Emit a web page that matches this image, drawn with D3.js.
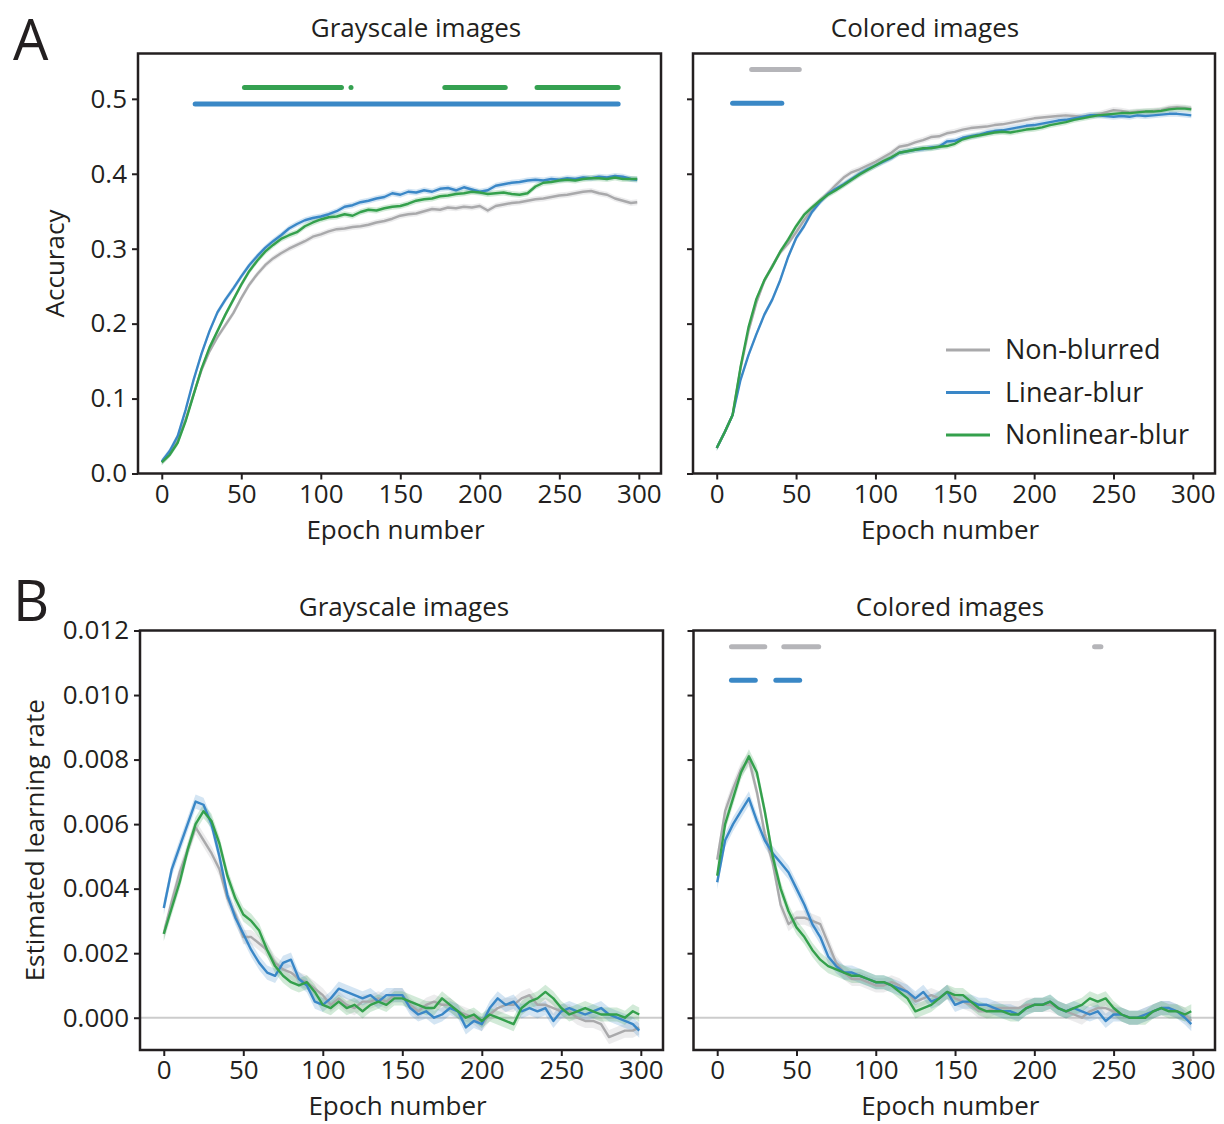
<!DOCTYPE html>
<html>
<head>
<meta charset="utf-8">
<script src="https://cdn.jsdelivr.net/npm/d3@7"></script>
<style>
  body { margin: 0; background: #fff; }
  svg { display: block; }
  text { font-family: "Open Sans", "Noto Sans", sans-serif; fill: #231f20; }
</style>
</head>
<body>
<div id="chart"></div>
<script>
const EPOCHS = [0,5,10,15,20,25,30,35,40,45,50,55,60,65,70,75,80,85,90,95,
  100,105,110,115,120,125,130,135,140,145,150,155,160,165,170,175,180,185,190,195,
  200,205,210,215,220,225,230,235,240,245,250,255,260,265,270,275,280,285,290,295,299];

// A, grayscale images: accuracy
const accGrayNon = [0.015,0.027,0.044,0.072,0.106,0.138,0.163,0.182,0.198,0.214,
  0.234,0.252,0.266,0.278,0.287,0.294,0.300,0.305,0.310,0.316,
  0.319,0.323,0.326,0.327,0.329,0.330,0.332,0.335,0.337,0.340,
  0.344,0.346,0.347,0.350,0.353,0.352,0.355,0.354,0.356,0.355,
  0.357,0.351,0.357,0.359,0.361,0.362,0.364,0.366,0.367,0.369,
  0.371,0.372,0.374,0.376,0.377,0.374,0.372,0.367,0.364,0.361,0.362];
const accGrayLin = [0.016,0.030,0.050,0.085,0.125,0.160,0.190,0.215,0.232,0.247,
  0.263,0.278,0.290,0.301,0.310,0.318,0.327,0.333,0.338,0.341,
  0.343,0.346,0.350,0.356,0.358,0.362,0.364,0.367,0.369,0.374,
  0.372,0.376,0.375,0.378,0.376,0.380,0.381,0.378,0.382,0.379,
  0.376,0.378,0.384,0.386,0.388,0.389,0.391,0.392,0.391,0.393,
  0.392,0.394,0.393,0.395,0.394,0.396,0.395,0.397,0.396,0.393,0.392];
const accGrayNonlin = [0.015,0.025,0.041,0.070,0.105,0.140,0.168,0.190,0.212,0.232,
  0.252,0.270,0.284,0.296,0.305,0.313,0.318,0.322,0.330,0.335,
  0.339,0.342,0.343,0.346,0.344,0.349,0.352,0.351,0.354,0.356,
  0.357,0.360,0.364,0.366,0.367,0.370,0.371,0.373,0.374,0.376,
  0.375,0.373,0.374,0.375,0.373,0.372,0.374,0.383,0.388,0.389,
  0.391,0.392,0.391,0.393,0.394,0.394,0.393,0.395,0.393,0.393,0.393];

// A, colored images: accuracy
const accColNon = [0.034,0.055,0.078,0.140,0.190,0.228,0.257,0.277,0.295,0.307,
  0.322,0.338,0.352,0.364,0.374,0.385,0.395,0.402,0.406,0.411,
  0.416,0.422,0.428,0.436,0.438,0.442,0.445,0.449,0.450,0.454,
  0.456,0.459,0.461,0.462,0.463,0.465,0.466,0.468,0.470,0.472,
  0.474,0.475,0.476,0.477,0.478,0.477,0.476,0.478,0.479,0.482,
  0.485,0.484,0.482,0.483,0.483,0.484,0.485,0.488,0.489,0.488,0.487];
const accColLin = [0.034,0.055,0.078,0.125,0.158,0.186,0.212,0.232,0.258,0.289,
  0.314,0.330,0.349,0.362,0.373,0.380,0.386,0.393,0.400,0.406,
  0.411,0.416,0.421,0.428,0.430,0.432,0.433,0.435,0.436,0.443,
  0.444,0.448,0.450,0.452,0.455,0.457,0.458,0.460,0.462,0.464,
  0.465,0.467,0.469,0.471,0.472,0.474,0.476,0.478,0.478,0.477,
  0.476,0.477,0.476,0.478,0.477,0.478,0.479,0.480,0.480,0.479,0.478];
const accColNonlin = [0.034,0.055,0.078,0.142,0.195,0.233,0.258,0.276,0.296,0.312,
  0.330,0.345,0.355,0.364,0.372,0.378,0.385,0.392,0.399,0.405,
  0.411,0.417,0.422,0.428,0.430,0.432,0.434,0.434,0.436,0.437,
  0.440,0.446,0.449,0.451,0.453,0.455,0.456,0.455,0.457,0.459,
  0.460,0.462,0.465,0.467,0.469,0.472,0.474,0.476,0.478,0.479,
  0.480,0.481,0.481,0.482,0.483,0.483,0.484,0.486,0.487,0.487,0.486];

// B, grayscale images: estimated learning rate
const lrGrayNon = [0.0026,0.0036,0.0045,0.0052,0.0059,0.0055,0.0051,0.0046,0.0037,0.0032,
  0.0025,0.0025,0.0023,0.0021,0.0017,0.0015,0.0014,0.0012,0.0011,0.0009,
  0.0007,0.0004,0.0006,0.0004,0.0003,0.0005,0.0005,0.0006,0.0005,0.0007,
  0.0007,0.0004,0.0002,0.0004,0.0005,0.0004,0.0004,0.0002,0.0001,0.0000,
  -0.0002,0.0001,0.0003,0.0004,0.0004,0.0006,0.0007,0.0004,0.0004,0.0003,
  0.0002,0.0002,0.0000,-0.0001,-0.0001,-0.0002,-0.0006,-0.0005,-0.0004,-0.0004,-0.0003];
const lrGrayLin = [0.0034,0.0046,0.0053,0.0060,0.0067,0.0066,0.0060,0.0050,0.0038,0.0031,
  0.0026,0.0021,0.0017,0.0014,0.0013,0.0017,0.0018,0.0012,0.0010,0.0005,
  0.0004,0.0006,0.0009,0.0008,0.0007,0.0006,0.0007,0.0005,0.0007,0.0007,
  0.0007,0.0003,0.0001,0.0002,0.0000,0.0001,0.0003,0.0002,-0.0003,-0.0001,
  -0.0002,0.0003,0.0006,0.0004,0.0005,0.0002,0.0003,0.0002,0.0003,-0.0001,
  0.0002,0.0003,0.0002,0.0001,0.0002,0.0003,0.0001,0.0000,-0.0001,-0.0002,-0.0004];
const lrGrayNonlin = [0.0026,0.0034,0.0042,0.0052,0.0060,0.0064,0.0061,0.0054,0.0044,0.0037,
  0.0032,0.0030,0.0027,0.0021,0.0016,0.0013,0.0011,0.0010,0.0011,0.0008,
  0.0004,0.0003,0.0005,0.0003,0.0004,0.0002,0.0004,0.0005,0.0004,0.0006,
  0.0006,0.0005,0.0004,0.0003,0.0003,0.0006,0.0004,0.0002,0.0000,0.0001,
  -0.0001,0.0001,0.0000,-0.0001,-0.0002,0.0003,0.0005,0.0006,0.0008,0.0006,
  0.0003,0.0001,0.0002,0.0003,0.0002,0.0001,0.0001,0.0001,0.0000,0.0002,0.0001];

// B, colored images: estimated learning rate
const lrColNon = [0.0049,0.0064,0.0071,0.0077,0.0080,0.0070,0.0057,0.0048,0.0035,0.0029,
  0.0031,0.0031,0.0030,0.0029,0.0023,0.0017,0.0014,0.0012,0.0012,0.0011,
  0.0010,0.0010,0.0011,0.0010,0.0008,0.0005,0.0006,0.0007,0.0006,0.0008,
  0.0006,0.0005,0.0004,0.0002,0.0002,0.0003,0.0003,0.0003,0.0003,0.0004,
  0.0004,0.0004,0.0004,0.0003,0.0002,0.0001,0.0000,0.0002,0.0003,0.0003,
  0.0002,0.0001,0.0000,0.0000,0.0001,0.0002,0.0003,0.0003,0.0002,0.0001,-0.0001];
const lrColLin = [0.0042,0.0055,0.0060,0.0064,0.0068,0.0061,0.0055,0.0051,0.0048,0.0045,
  0.0040,0.0035,0.0029,0.0025,0.0019,0.0016,0.0014,0.0014,0.0013,0.0012,
  0.0011,0.0011,0.0010,0.0009,0.0008,0.0006,0.0008,0.0005,0.0006,0.0008,
  0.0004,0.0005,0.0005,0.0004,0.0004,0.0003,0.0002,0.0002,0.0001,0.0003,
  0.0004,0.0004,0.0005,0.0003,0.0002,0.0003,0.0002,0.0001,0.0002,-0.0001,
  0.0001,0.0001,0.0000,0.0000,0.0001,0.0002,0.0003,0.0003,0.0002,0.0000,-0.0002];
const lrColNonlin = [0.0044,0.0060,0.0068,0.0076,0.0081,0.0076,0.0064,0.0050,0.0040,0.0033,
  0.0028,0.0025,0.0021,0.0018,0.0016,0.0015,0.0014,0.0013,0.0013,0.0012,
  0.0011,0.0011,0.0010,0.0008,0.0006,0.0002,0.0003,0.0004,0.0006,0.0008,
  0.0007,0.0007,0.0005,0.0003,0.0002,0.0002,0.0002,0.0001,0.0001,0.0003,
  0.0004,0.0004,0.0005,0.0003,0.0002,0.0003,0.0004,0.0006,0.0005,0.0006,
  0.0003,0.0001,0.0000,0.0000,0.0000,0.0002,0.0003,0.0002,0.0002,0.0001,0.0002];

// shaded error half-widths
const semAcc = 0.004;
const semLr = 0.00022;

// significance bars: [start epoch, end epoch]
const sigAccGrayLin = [[21, 287]];
const sigAccGrayNonlin = [[52, 113], [119, 119], [178, 216], [236, 287]];
const sigAccColNon = [[22, 52]];
const sigAccColLin = [[10, 41]];
const sigLrColNon = [[9, 30], [42, 64], [238, 242]];
const sigLrColLin = [[9, 24], [37, 52]];

const legendLabels = ["Non-blurred", "Linear-blur", "Nonlinear-blur"];
const xTicks = [0, 50, 100, 150, 200, 250, 300];
const accTicks = [0.0, 0.1, 0.2, 0.3, 0.4, 0.5];
const lrTicks = [0.000, 0.002, 0.004, 0.006, 0.008, 0.010, 0.012];

const colors = { non: "#a9a9ab", lin: "#3a87c7", nonlin: "#34a04c" };
const barColors = { non: "#b5b5b9", lin: "#3a88c6", nonlin: "#35a151" };
const ink = "#231f20";

const svg = d3.select("#chart").append("svg")
  .attr("width", 1224).attr("height", 1124);

function drawPanel(p) {
  const x = d3.scaleLinear().domain([-14.95, 313.95]).range([p.left, p.right]);
  const y = d3.scaleLinear().domain(p.yDomain).range([p.bottom, p.top]);
  const g = svg.append("g");
  const clipId = "clip-" + p.id;
  g.append("clipPath").attr("id", clipId).append("rect")
    .attr("x", p.left).attr("y", p.top)
    .attr("width", p.right - p.left).attr("height", p.bottom - p.top);
  const plot = g.append("g").attr("clip-path", "url(#" + clipId + ")");

  if (p.zeroLine) {
    plot.append("line")
      .attr("x1", p.left).attr("x2", p.right)
      .attr("y1", y(0)).attr("y2", y(0))
      .attr("stroke", "#cccccc").attr("stroke-width", 2);
  }

  const keys = ["non", "lin", "nonlin"];
  keys.forEach(k => {
    const vals = p.series[k];
    const pts = EPOCHS.map((e, i) => [e, vals[i]]);
    plot.append("path").datum(pts)
      .attr("d", d3.area().x(d => x(d[0])).y0(d => y(d[1] - p.sem)).y1(d => y(d[1] + p.sem)))
      .attr("fill", colors[k]).attr("opacity", 0.22);
  });
  keys.forEach(k => {
    const vals = p.series[k];
    const pts = EPOCHS.map((e, i) => [e, vals[i]]);
    plot.append("path").datum(pts)
      .attr("d", d3.line().x(d => x(d[0])).y(d => y(d[1])))
      .attr("fill", "none").attr("stroke", colors[k])
      .attr("stroke-width", 2.4).attr("stroke-linejoin", "round");
  });

  (p.bars || []).forEach(b => {
    b.ranges.forEach(r => {
      plot.append("line")
        .attr("x1", x(r[0])).attr("x2", x(r[1]))
        .attr("y1", y(b.y)).attr("y2", y(b.y))
        .attr("stroke", barColors[b.key]).attr("stroke-width", 5)
        .attr("stroke-linecap", "round");
    });
  });

  // axes
  const xAxis = g.append("g").attr("transform", `translate(0,${p.bottom})`)
    .call(d3.axisBottom(x).tickValues(xTicks).tickSize(6).tickPadding(5).tickFormat(d3.format("d")));
  const yAxis = g.append("g").attr("transform", `translate(${p.left},0)`)
    .call(d3.axisLeft(y).tickValues(p.yTicks).tickSize(6).tickPadding(5)
      .tickFormat(p.showYLabels ? d3.format(p.yFormat) : ""));
  [xAxis, yAxis].forEach(a => {
    a.select(".domain").remove();
    a.selectAll(".tick line").attr("stroke", ink).attr("stroke-width", 2);
    a.selectAll(".tick text").attr("fill", ink).style("font-size", "26px")
      .style("font-family", '"Open Sans", sans-serif');
  });

  g.append("rect")
    .attr("x", p.left).attr("y", p.top)
    .attr("width", p.right - p.left).attr("height", p.bottom - p.top)
    .attr("fill", "none").attr("stroke", ink).attr("stroke-width", 2.5);

  g.append("text").attr("x", p.titleX).attr("y", p.titleY)
    .attr("text-anchor", "middle").style("font-size", "26px").text(p.title);
  g.append("text").attr("x", (p.left + p.right) / 2 - 4).attr("y", p.xLabelY)
    .attr("text-anchor", "middle").style("font-size", "26px").text("Epoch number");
  if (p.yLabel) {
    g.append("text")
      .attr("transform", `translate(${p.yLabelX},${(p.top + p.bottom) / 2}) rotate(-90)`)
      .attr("text-anchor", "middle").style("font-size", "26px").text(p.yLabel);
  }
  return { x, y, g };
}

drawPanel({
  id: "a1", left: 138, right: 661, top: 53.5, bottom: 473.5,
  yDomain: [0, 0.5605], yTicks: accTicks, yFormat: ".1f", showYLabels: true,
  series: { non: accGrayNon, lin: accGrayLin, nonlin: accGrayNonlin }, sem: semAcc,
  bars: [{ key: "nonlin", y: 0.515, ranges: sigAccGrayNonlin },
         { key: "lin", y: 0.493, ranges: sigAccGrayLin }],
  title: "Grayscale images", titleX: 416, titleY: 37,
  xLabelY: 539, yLabel: "Accuracy", yLabelX: 64
});

drawPanel({
  id: "a2", left: 693, right: 1215, top: 53.5, bottom: 473.5,
  yDomain: [0, 0.5605], yTicks: accTicks, yFormat: ".1f", showYLabels: false,
  series: { non: accColNon, lin: accColLin, nonlin: accColNonlin }, sem: semAcc,
  bars: [{ key: "non", y: 0.539, ranges: sigAccColNon },
         { key: "lin", y: 0.494, ranges: sigAccColLin }],
  title: "Colored images", titleX: 925, titleY: 37,
  xLabelY: 539
});

drawPanel({
  id: "b1", left: 140, right: 663, top: 630.5, bottom: 1050,
  yDomain: [-0.001, 0.012], yTicks: lrTicks, yFormat: ".3f", showYLabels: true,
  series: { non: lrGrayNon, lin: lrGrayLin, nonlin: lrGrayNonlin }, sem: semLr,
  zeroLine: true,
  title: "Grayscale images", titleX: 404, titleY: 616,
  xLabelY: 1115, yLabel: "Estimated learning rate", yLabelX: 44
});

drawPanel({
  id: "b2", left: 693.5, right: 1215, top: 630.5, bottom: 1050,
  yDomain: [-0.001, 0.012], yTicks: lrTicks, yFormat: ".3f", showYLabels: false,
  series: { non: lrColNon, lin: lrColLin, nonlin: lrColNonlin }, sem: semLr,
  zeroLine: true,
  bars: [{ key: "non", y: 0.0115, ranges: sigLrColNon },
         { key: "lin", y: 0.01046, ranges: sigLrColLin }],
  title: "Colored images", titleX: 950, titleY: 616,
  xLabelY: 1115
});

// legend in the colored accuracy panel
const legend = svg.append("g");
["non", "lin", "nonlin"].forEach((k, i) => {
  const ly = 350 + i * 42.5;
  legend.append("line").attr("x1", 946).attr("x2", 990).attr("y1", ly).attr("y2", ly)
    .attr("stroke", colors[k]).attr("stroke-width", 3);
  legend.append("text").attr("x", 1005).attr("y", ly).attr("dy", "0.35em")
    .style("font-size", "27px").text(legendLabels[i]);
});

// panel letters
svg.append("text").attr("x", 13).attr("y", 60).style("font-size", "56px").text("A");
svg.append("text").attr("x", 13).attr("y", 621).style("font-size", "56px").text("B");
</script>
</body>
</html>
